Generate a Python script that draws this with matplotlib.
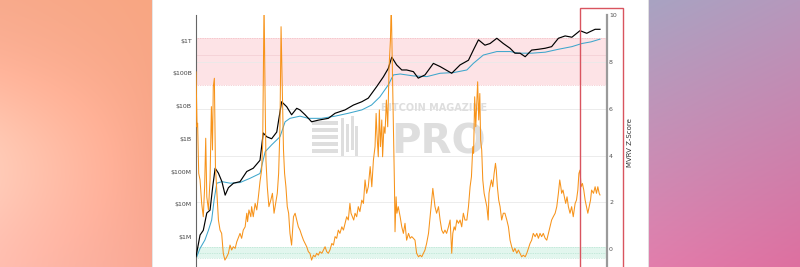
import numpy as np
import matplotlib
matplotlib.use('Agg')
import matplotlib.pyplot as plt
from matplotlib.patches import Rectangle
from matplotlib.ticker import NullLocator
from matplotlib.transforms import blended_transform_factory

# market cap (black), decimal year / USD
mc_year = [2010.80, 2010.95, 2011.07, 2011.20, 2011.32, 2011.42, 2011.51, 2011.63, 2011.76, 2011.88,
           2012.00, 2012.19, 2012.43, 2012.68, 2012.92, 2013.17, 2013.29, 2013.42, 2013.60, 2013.79,
           2013.97, 2014.16, 2014.34, 2014.53, 2014.65, 2014.84, 2015.08, 2015.33, 2015.70, 2015.95,
           2016.32, 2016.63, 2016.94, 2017.18, 2017.49, 2017.74, 2017.92, 2018.05, 2018.23, 2018.42,
           2018.60, 2018.85, 2019.03, 2019.28, 2019.59, 2019.84, 2020.27, 2020.58, 2020.89, 2021.07,
           2021.26, 2021.50, 2021.69, 2021.94, 2022.18, 2022.43, 2022.61, 2022.80, 2022.99, 2023.23,
           2023.48, 2023.73, 2023.97, 2024.22, 2024.47, 2024.72, 2025.02, 2025.27, 2025.39, 2025.58,
           2025.76]
mc_usd = [2.5e5, 1.15e6, 1.6e6, 5.4e6, 6.6e6, 3.5e7, 1.26e8, 8.9e7, 4.9e7, 1.9e7,
          3.2e7, 4.4e7, 4.9e7, 1.0e8, 1.26e8, 2.2e8, 1.5e9, 1.15e9, 1.0e9, 1.6e9,
          1.35e10, 9.5e9, 5.4e9, 8.5e9, 7.6e9, 5.4e9, 3.3e9, 3.7e9, 4.2e9, 6.0e9,
          7.6e9, 1.07e10, 1.35e10, 1.74e10, 3.9e10, 7.8e10, 1.4e11, 3.1e11, 1.8e11, 1.26e11,
          1.26e11, 1.12e11, 7.1e10, 8.9e10, 2.0e11, 1.6e11, 1.0e11, 1.8e11, 2.5e11, 5.1e11,
          1.05e12, 7.2e11, 8.1e11, 1.17e12, 8.1e11, 5.8e11, 4.1e11, 4.1e11, 3.2e11, 5.1e11,
          5.4e11, 5.8e11, 6.5e11, 1.17e12, 1.38e12, 1.26e12, 2.0e12, 1.66e12, 1.86e12, 2.2e12,
          2.2e12]

# realized cap (blue)
rc_year = [2010.80, 2010.95, 2011.13, 2011.26, 2011.38, 2011.47, 2011.57, 2011.76, 2012.07, 2012.43,
           2012.80, 2013.17, 2013.36, 2013.60, 2013.91, 2014.10, 2014.28, 2014.65, 2014.96, 2015.45,
           2015.95, 2016.44, 2016.94, 2017.30, 2017.61, 2017.92, 2018.11, 2018.36, 2018.85, 2019.35,
           2019.84, 2020.34, 2020.83, 2021.07, 2021.44, 2021.94, 2022.43, 2022.74, 2023.23, 2023.73,
           2024.22, 2024.72, 2025.09, 2025.43, 2025.76]
rc_usd = [2.2e5, 4.5e5, 8.1e5, 1.6e6, 3.3e6, 1.35e7, 4.4e7, 4.9e7, 4.4e7, 4.6e7,
          6.2e7, 8.7e7, 4.0e8, 6.5e8, 1.15e9, 3.3e9, 4.2e9, 4.9e9, 4.2e9, 4.2e9,
          4.9e9, 6.0e9, 7.6e9, 1.07e10, 1.9e10, 4.4e10, 8.9e10, 9.5e10, 8.3e10, 7.9e10,
          1.0e11, 1.05e11, 1.26e11, 2.0e11, 3.6e11, 4.6e11, 4.6e11, 4.1e11, 4.1e11, 4.4e11,
          5.4e11, 6.5e11, 8.1e11, 9.1e11, 1.1e12]

# MVRV Z-Score (orange, right axis)
z_year = [
    # 2010 - 2014
    2010.78, 2010.80, 2010.84, 2010.86, 2010.90, 2010.95, 2011.01, 2011.07, 2011.12, 2011.16,
    2011.20, 2011.26, 2011.32, 2011.37, 2011.41, 2011.44, 2011.48, 2011.52, 2011.57, 2011.63,
    2011.69, 2011.75, 2011.81, 2011.87, 2011.94, 2012.00, 2012.06, 2012.12, 2012.18, 2012.25,
    2012.31, 2012.43, 2012.49, 2012.55, 2012.62, 2012.68, 2012.71, 2012.76, 2012.83, 2012.86,
    2012.92, 2012.99, 2013.05, 2013.11, 2013.17, 2013.23, 2013.27, 2013.29, 2013.32, 2013.36,
    2013.39, 2013.44, 2013.50, 2013.57, 2013.63, 2013.69, 2013.75, 2013.81, 2013.86, 2013.91,
    2013.95, 2013.99, 2014.04, 2014.08, 2014.13, 2014.18, 2014.23, 2014.28, 2014.34, 2014.41,
    # 2014 - 2018
    2014.47, 2014.53, 2014.59, 2014.65, 2014.71, 2014.78, 2014.84, 2014.90, 2014.96, 2015.02,
    2015.08, 2015.15, 2015.21, 2015.27, 2015.33, 2015.39, 2015.46, 2015.52, 2015.58, 2015.64,
    2015.70, 2015.76, 2015.83, 2015.89, 2015.95, 2016.01, 2016.07, 2016.13, 2016.20, 2016.26,
    2016.32, 2016.38, 2016.44, 2016.50, 2016.54, 2016.59, 2016.64, 2016.69, 2016.75, 2016.81,
    2016.87, 2016.94, 2017.00, 2017.06, 2017.12, 2017.18, 2017.25, 2017.31, 2017.37, 2017.43,
    2017.47, 2017.50, 2017.55, 2017.59, 2017.63, 2017.68, 2017.71, 2017.76, 2017.80, 2017.85,
    2017.90, 2017.95, 2018.00, 2018.03, 2018.07, 2018.11, 2018.15, 2018.17, 2018.21, 2018.24,
    2018.29,
    # 2018 - 2022
    2018.36, 2018.42, 2018.48, 2018.54, 2018.60, 2018.67, 2018.73, 2018.79, 2018.85, 2018.91,
    2018.97, 2019.04, 2019.10, 2019.16, 2019.22, 2019.28, 2019.34, 2019.41, 2019.47, 2019.53,
    2019.57, 2019.62, 2019.65, 2019.71, 2019.78, 2019.84, 2019.90, 2019.96, 2020.02, 2020.08,
    2020.15, 2020.21, 2020.27, 2020.31, 2020.36, 2020.40, 2020.46, 2020.52, 2020.58, 2020.64,
    2020.70, 2020.76, 2020.83, 2020.89, 2020.95, 2021.00, 2021.05, 2021.08, 2021.12, 2021.16,
    2021.20, 2021.23, 2021.27, 2021.31, 2021.34, 2021.38, 2021.42, 2021.47, 2021.52, 2021.57,
    2021.62, 2021.65, 2021.69, 2021.74, 2021.79, 2021.84, 2021.89, 2021.92, 2021.96, 2022.01,
    2022.06, 2022.12, 2022.18,
    # 2022 - 2025
    2022.24, 2022.31, 2022.37, 2022.43, 2022.49, 2022.55, 2022.61, 2022.68, 2022.74, 2022.80,
    2022.86, 2022.92, 2022.99, 2023.05, 2023.11, 2023.17, 2023.23, 2023.29, 2023.36, 2023.42,
    2023.48, 2023.54, 2023.60, 2023.66, 2023.73, 2023.79, 2023.85, 2023.91, 2023.97, 2024.03,
    2024.10, 2024.16, 2024.22, 2024.27, 2024.31, 2024.34, 2024.39, 2024.44, 2024.49, 2024.54,
    2024.59, 2024.65, 2024.71, 2024.77, 2024.84, 2024.89, 2024.94, 2024.98, 2025.02, 2025.06,
    2025.11, 2025.16, 2025.21, 2025.26, 2025.31, 2025.36, 2025.41, 2025.45, 2025.52, 2025.58,
    2025.63, 2025.68, 2025.73, 2025.76,
]
z_val = [
    1.82, 7.58, 5.23, 5.38, 3.24, 2.96, 1.96, 1.39, 2.67, 4.74,
    2.24, 1.68, 2.96, 6.09, 4.24, 6.94, 7.30, 3.53, 2.53, 1.25,
    0.82, 0.68, -0.17, -0.46, -0.32, -0.17, 0.18, -0.03, 0.11, 0.04,
    0.32, 0.68, 0.47, 0.82, 0.96, 1.54, 1.18, 1.68, 1.39, 1.82,
    1.39, 1.96, 1.68, 2.24, 2.89, 3.38, 4.52, 7.08, 10.6, 6.37,
    3.81, 2.67, 1.82, 2.10, 2.39, 1.54, 1.96, 2.39, 3.24, 5.23,
    9.50, 7.08, 4.24, 3.24, 2.67, 1.82, 1.54, 0.68, 0.18, 1.39,

    1.54, 1.25, 0.96, 0.82, 0.61, 0.39, 0.25, 0.11, -0.10, -0.17,
    -0.46, -0.25, -0.32, -0.17, -0.25, -0.10, -0.17, -0.03, 0.11, -0.10,
    -0.17, -0.03, 0.25, 0.18, 0.54, 0.47, 0.82, 0.68, 0.96, 0.82,
    1.11, 1.39, 1.25, 1.96, 1.54, 1.39, 1.25, 1.54, 1.39, 1.82,
    1.61, 2.10, 1.96, 2.96, 2.39, 2.67, 3.53, 2.67, 3.81, 4.38,
    5.80, 4.95, 3.95, 5.95, 4.38, 5.52, 3.95, 5.23, 4.95, 6.37,
    5.23, 7.79, 8.93, 10.5, 7.79, 5.23, 2.67, 0.75, 2.24, 1.54,
    1.82,

    1.39, 0.96, 0.68, 1.11, 0.39, 0.68, 0.47, 0.54, 0.47, 0.39,
    -0.17, -0.32, -0.25, -0.32, -0.17, -0.03, 0.25, 0.68, 1.39, 2.10,
    2.60, 2.10, 1.82, 1.54, 1.82, 1.25, 0.82, 0.68, 0.82, 0.68,
    0.96, 1.25, -0.17, 0.68, 0.96, 0.82, 1.25, 1.11, 1.25, 0.96,
    1.54, 1.25, 1.25, 1.82, 2.67, 3.10, 4.38, 4.10, 6.51, 5.23,
    6.37, 7.15, 5.52, 6.65, 4.67, 4.24, 2.96, 2.39, 2.10, 1.82,
    1.25, 2.39, 2.67, 2.96, 2.67, 3.24, 3.67, 3.38, 2.67, 2.10,
    1.82, 1.25, 1.54,

    1.54, 1.25, 0.96, 0.39, 0.11, -0.10, 0.04, -0.17, -0.03, -0.17,
    -0.32, -0.25, -0.32, -0.17, 0.04, 0.25, 0.39, 0.68, 0.54, 0.68,
    0.47, 0.68, 0.54, 0.68, 0.47, 0.39, 0.68, 0.96, 1.25, 1.39,
    1.54, 1.82, 2.39, 2.96, 2.67, 2.39, 2.53, 2.24, 1.96, 2.24,
    1.82, 1.54, 1.82, 1.39, 1.96, 2.10, 2.53, 3.24, 3.38, 2.67,
    2.81, 2.53, 2.10, 1.82, 1.54, 1.82, 2.10, 2.53, 2.39, 2.67,
    2.39, 2.67, 2.39, 2.32,
]

cap_ticks = [1e6, 1e7, 1e8, 1e9, 1e10, 1e11, 1e12]
cap_labels = ['$1M', '$10M', '$100M', '$1B', '$10B', '$100B', '$1T']
z_ticks = [0, 2, 4, 6, 8, 10]

W, H = 800, 267
fig = plt.figure(figsize=(W / 100, H / 100), dpi=100)

# background gradient, two side strips around a white card
def strip(tl, tr, bl, br, w, h):
    t = np.linspace(0, 1, h)[:, None, None]
    s = np.linspace(0, 1, w)[None, :, None]
    top = np.array(tl) * (1 - s) + np.array(tr) * s
    bot = np.array(bl) * (1 - s) + np.array(br) * s
    return top * (1 - t) + bot * t

img = np.ones((H, W, 3)) * 255
left = strip((248, 170, 140), (248, 166, 130), (252, 186, 172), (250, 168, 148), 152, H)
glow = 22 * np.exp(-((np.linspace(0, 1, H)[:, None] - 0.6) / 0.3) ** 2) * (1 - np.linspace(0, 1, 152)[None, :])
left = left + glow[:, :, None]
img[:, :152] = left
img[:, 648:] = strip((168, 163, 194), (182, 152, 188), (226, 126, 172), (222, 112, 160), 152, H)
img = np.clip(img, 0, 255) / 255

bg = fig.add_axes([0, 0, 1, 1])
bg.imshow(img, aspect='auto', extent=[0, 1, 0, 1], interpolation='bilinear')
bg.set_xlim(0, 1)
bg.set_ylim(0, 1)
bg.axis('off')
bg.add_patch(Rectangle((152 / W, -0.1), 496 / W, 1.2, facecolor='white', edgecolor='#e2e2e2', lw=0.6))

# chart axes
ax = fig.add_axes([196 / W, 0, 411 / W, 1 - 15 / H])
ax.set_facecolor('none')
ax.set_yscale('log')
ax.set_xlim(2010.8, 2026.02)
ax.set_ylim(10 ** 5.084, 10 ** 12.779)
ax2 = ax.twinx()
ax2.set_ylim(-0.755, 10)

trans = blended_transform_factory(ax.transAxes, ax2.transData)

# bands
ax.add_patch(Rectangle((0, 7), 1, 2, transform=trans, facecolor='#fde3e6', edgecolor='none', zorder=0))
ax.add_patch(Rectangle((0, -0.38), 1, 0.49, transform=trans, facecolor='#e2f6ee', edgecolor='none', zorder=0))
for zz in [7, 9]:
    ax.plot([0, 1], [zz, zz], transform=trans, color='#eeaab2', lw=0.5, ls=(0, (1, 1.5)), zorder=1)
ax.plot([0, 1], [8.28, 8.28], transform=trans, color='#f2cdd2', lw=0.5, zorder=1)
for zz in [0.11, -0.17, -0.38]:
    ax.plot([0, 1], [zz, zz], transform=trans, color='#a6dcc6', lw=0.5, ls=(0, (1, 1.5)), zorder=1)
for zz in [2, 4, 6, 8]:
    ax.plot([0, 1], [zz, zz], transform=trans, color='#e9e9e9', lw=0.6, zorder=1)

# watermark
wm = '#dedede'
ax.text(0.543, 1 - 111 / H, 'BITCOIN MAGAZINE', transform=fig.transFigure, ha='center', va='baseline',
        fontsize=7, fontweight='bold', color=wm, zorder=1)
ax.text(0.548, 1 - 153 / H, 'PRO', transform=fig.transFigure, ha='center', va='baseline',
        fontsize=29, fontweight='bold', color=wm, zorder=1)
for i in range(5):
    yb = 121 + i * 7
    ax.add_patch(Rectangle((312 / W, 1 - (yb + 4) / H), 26 / W, 4 / H, transform=fig.transFigure,
                           facecolor=wm, edgecolor='none', zorder=1))
for xb, y0, y1 in [(341, 118, 156), (346, 124, 152), (351, 116, 150), (355, 126, 156)]:
    ax.add_patch(Rectangle((xb / W, 1 - y1 / H), 3 / W, (y1 - y0) / H, transform=fig.transFigure,
                           facecolor=wm, edgecolor='none', zorder=1))

# series
ax.plot(rc_year, rc_usd, color='#3ea6cc', lw=0.75, zorder=2)
ax.plot(mc_year, mc_usd, color='black', lw=0.85, zorder=3)
ax2.plot(z_year, z_val, color='#f7931a', lw=0.75, zorder=2)

# axes styling
ax.set_yticks(cap_ticks)
ax.set_yticklabels(cap_labels)
ax.yaxis.set_minor_locator(NullLocator())
ax.set_xticks([])
ax.tick_params(axis='y', length=0, pad=3, labelsize=4.5, labelcolor='#444444')
for s in ['top', 'bottom', 'right']:
    ax.spines[s].set_visible(False)
ax.spines['left'].set_color('#666666')
ax.spines['left'].set_linewidth(0.8)

ax2.set_yticks(z_ticks)
ax2.tick_params(axis='y', length=0, pad=1.5, labelsize=4.5, labelcolor='#555555')
for s in ['top', 'bottom', 'left']:
    ax2.spines[s].set_visible(False)
ax2.spines['right'].set_color('#9a9a9a')
ax2.spines['right'].set_linewidth(1.6)
ax2.set_ylabel('MVRV Z-Score', fontsize=5, color='#333333')
ax2.yaxis.set_label_coords((627 - 196) / 411, (H - 143) / (H - 15))

# highlight box on the latest period
fig.add_artist(Rectangle((580 / W, -0.05), 43 / W, 1.05 - 8 / H, transform=fig.transFigure,
                         facecolor='none', edgecolor='#d9545f', lw=1.0, zorder=5))

fig.savefig('out.png', dpi=100)
